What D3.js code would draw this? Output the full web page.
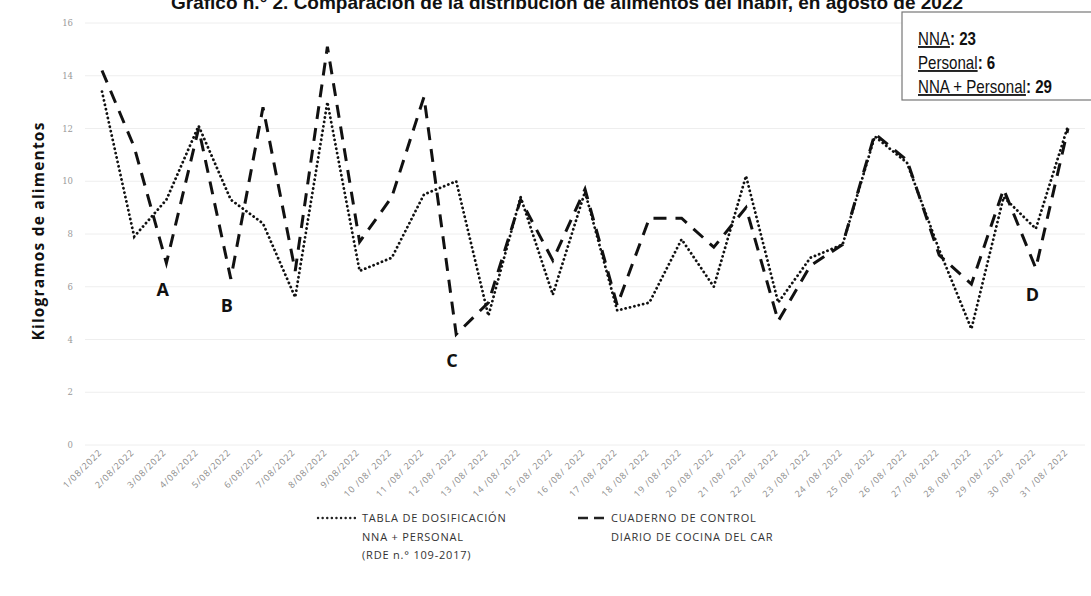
<!DOCTYPE html>
<html><head><meta charset="utf-8">
<script src="https://cdn.jsdelivr.net/npm/d3@7"></script>
<style>body{margin:0;background:#fff}svg{display:block}</style>
</head><body><svg id="c" width="1091" height="596"></svg>
<script>
const days = d3.range(1, 32).map(d => d < 10 ? `${d}/08/2022` : `${d} /08/ 2022`);
const tabla = [13.4, 7.9, 9.3, 12.1, 9.3, 8.4, 5.6, 13.0, 6.6, 7.1, 9.5, 10.0, 4.9, 9.4, 5.7, 9.6, 5.1, 5.4, 7.8, 6.0, 10.2, 5.4, 7.1, 7.6, 11.7, 10.7, 7.4, 4.4, 9.4, 8.2, 12.1];
const cuaderno = [14.2, 11.3, 6.9, 12.0, 6.3, 12.8, 6.6, 15.1, 7.7, 9.4, 13.2, 4.2, 5.4, 9.3, 7.0, 9.7, 5.3, 8.6, 8.6, 7.5, 9.0, 4.7, 6.8, 7.6, 11.8, 10.8, 7.2, 6.1, 9.7, 6.7, 12.0];
const yTicks = [0, 2, 4, 6, 8, 10, 12, 14, 16];
const notes = [{t: "A", i: 2}, {t: "B", i: 4}, {t: "C", i: 11}, {t: "D", i: 29}];
const boxLines = [["NNA", ": 23"], ["Personal", ": 6"], ["NNA + Personal", ": 29"]];

const svg = d3.select("#c");
const x = d3.scalePoint().domain(days).range([102, 1068]);
const y = d3.scaleLinear().domain([0, 16]).range([445, 23]);

// title (cut off at top, as in the source)
svg.append("text").attr("x", 567).attr("y", 9).attr("text-anchor", "middle")
  .attr("font-family", "Liberation Sans, Arial, sans-serif").attr("font-weight", "bold").attr("font-size", 19)
  .attr("fill", "#111").text("Gráfico n.° 2. Comparación de la distribución de alimentos del Inabif, en agosto de 2022");

// gridlines
svg.append("g").selectAll("line").data(yTicks).join("line")
  .attr("x1", 85).attr("x2", 1085).attr("y1", d => y(d)).attr("y2", d => y(d))
  .attr("stroke", "#eeeeee").attr("stroke-width", 1);

// y axis
const ya = svg.append("g").attr("transform", "translate(73,0)")
  .call(d3.axisLeft(y).tickValues(yTicks).tickSize(0).tickPadding(0));
ya.select(".domain").remove();
ya.selectAll("text").attr("font-family", "DejaVu Serif, serif").attr("font-size", 8.5).attr("fill", "#9a9a9a");

svg.append("text").attr("transform", "translate(44,231) rotate(-90)").attr("text-anchor", "middle")
  .attr("font-family", "Open Sans, sans-serif").attr("font-weight", "bold").attr("font-size", 15.5)
  .attr("letter-spacing", 1.2).attr("fill", "#111").text("Kilogramos de alimentos");

// x axis labels
const xa = svg.append("g").attr("transform", "translate(0,453)")
  .call(d3.axisBottom(x).tickSize(0).tickPadding(0));
xa.select(".domain").remove();
xa.selectAll("text").attr("font-family", "Open Sans, sans-serif").attr("font-size", 9).attr("fill", "#8a8a8a")
  .attr("letter-spacing", 0.9).attr("text-anchor", "end").attr("dy", 0).attr("transform", "rotate(-45)");

// lines
const line = d3.line().x((d, i) => x(days[i])).y(d => y(d));
svg.append("path").datum(tabla).attr("d", line).attr("fill", "none")
  .attr("stroke", "#111").attr("stroke-width", 2.8).attr("stroke-dasharray", "0.1,4.4").attr("stroke-linecap", "round");
svg.append("path").datum(cuaderno).attr("d", line).attr("fill", "none")
  .attr("stroke", "#111").attr("stroke-width", 3).attr("stroke-dasharray", "13,9");

// annotations
svg.append("g").selectAll("text").data(notes).join("text")
  .attr("x", d => x(days[d.i]) - 10).attr("y", d => y(cuaderno[d.i]) + 33)
  .attr("font-family", "Open Sans, sans-serif").attr("font-weight", "bold").attr("font-size", 18)
  .attr("fill", "#111").text(d => d.t);

// info box
svg.append("rect").attr("x", 902).attr("y", 12).attr("width", 200).attr("height", 88)
  .attr("fill", "#fff").attr("stroke", "#777").attr("stroke-width", 1.2);
const bt = svg.append("g").selectAll("text").data(boxLines).join("text")
  .attr("transform", (d, i) => `translate(918,${45 + i * 24}) scale(0.84,1)`)
  .attr("font-family", "Liberation Sans, Arial, sans-serif").attr("font-size", 18).attr("fill", "#111");
bt.append("tspan").attr("text-decoration", "underline").text(d => d[0]);
bt.append("tspan").attr("font-weight", "bold").text(d => d[1]);

// legend
const lg = svg.append("g").attr("font-family", "Open Sans, sans-serif").attr("font-size", 11).attr("fill", "#333").attr("letter-spacing", 0.8);
lg.append("line").attr("x1", 318).attr("x2", 357).attr("y1", 518).attr("y2", 518)
  .attr("stroke", "#222").attr("stroke-width", 2.4).attr("stroke-dasharray", "0.1,4.5").attr("stroke-linecap", "round");
[["TABLA DE DOSIFICACIÓN", 0], ["NNA + PERSONAL", 1], ["(RDE n.° 109-2017)", 2]].forEach(([t, i]) =>
  lg.append("text").attr("x", 362).attr("y", 522 + i * 18.5).text(t));
lg.append("line").attr("x1", 578).attr("x2", 608).attr("y1", 518).attr("y2", 518)
  .attr("stroke", "#222").attr("stroke-width", 2.6).attr("stroke-dasharray", "10,6");
[["CUADERNO DE CONTROL", 0], ["DIARIO DE COCINA DEL CAR", 1]].forEach(([t, i]) =>
  lg.append("text").attr("x", 611).attr("y", 522 + i * 18.5).text(t));
</script></body></html>
